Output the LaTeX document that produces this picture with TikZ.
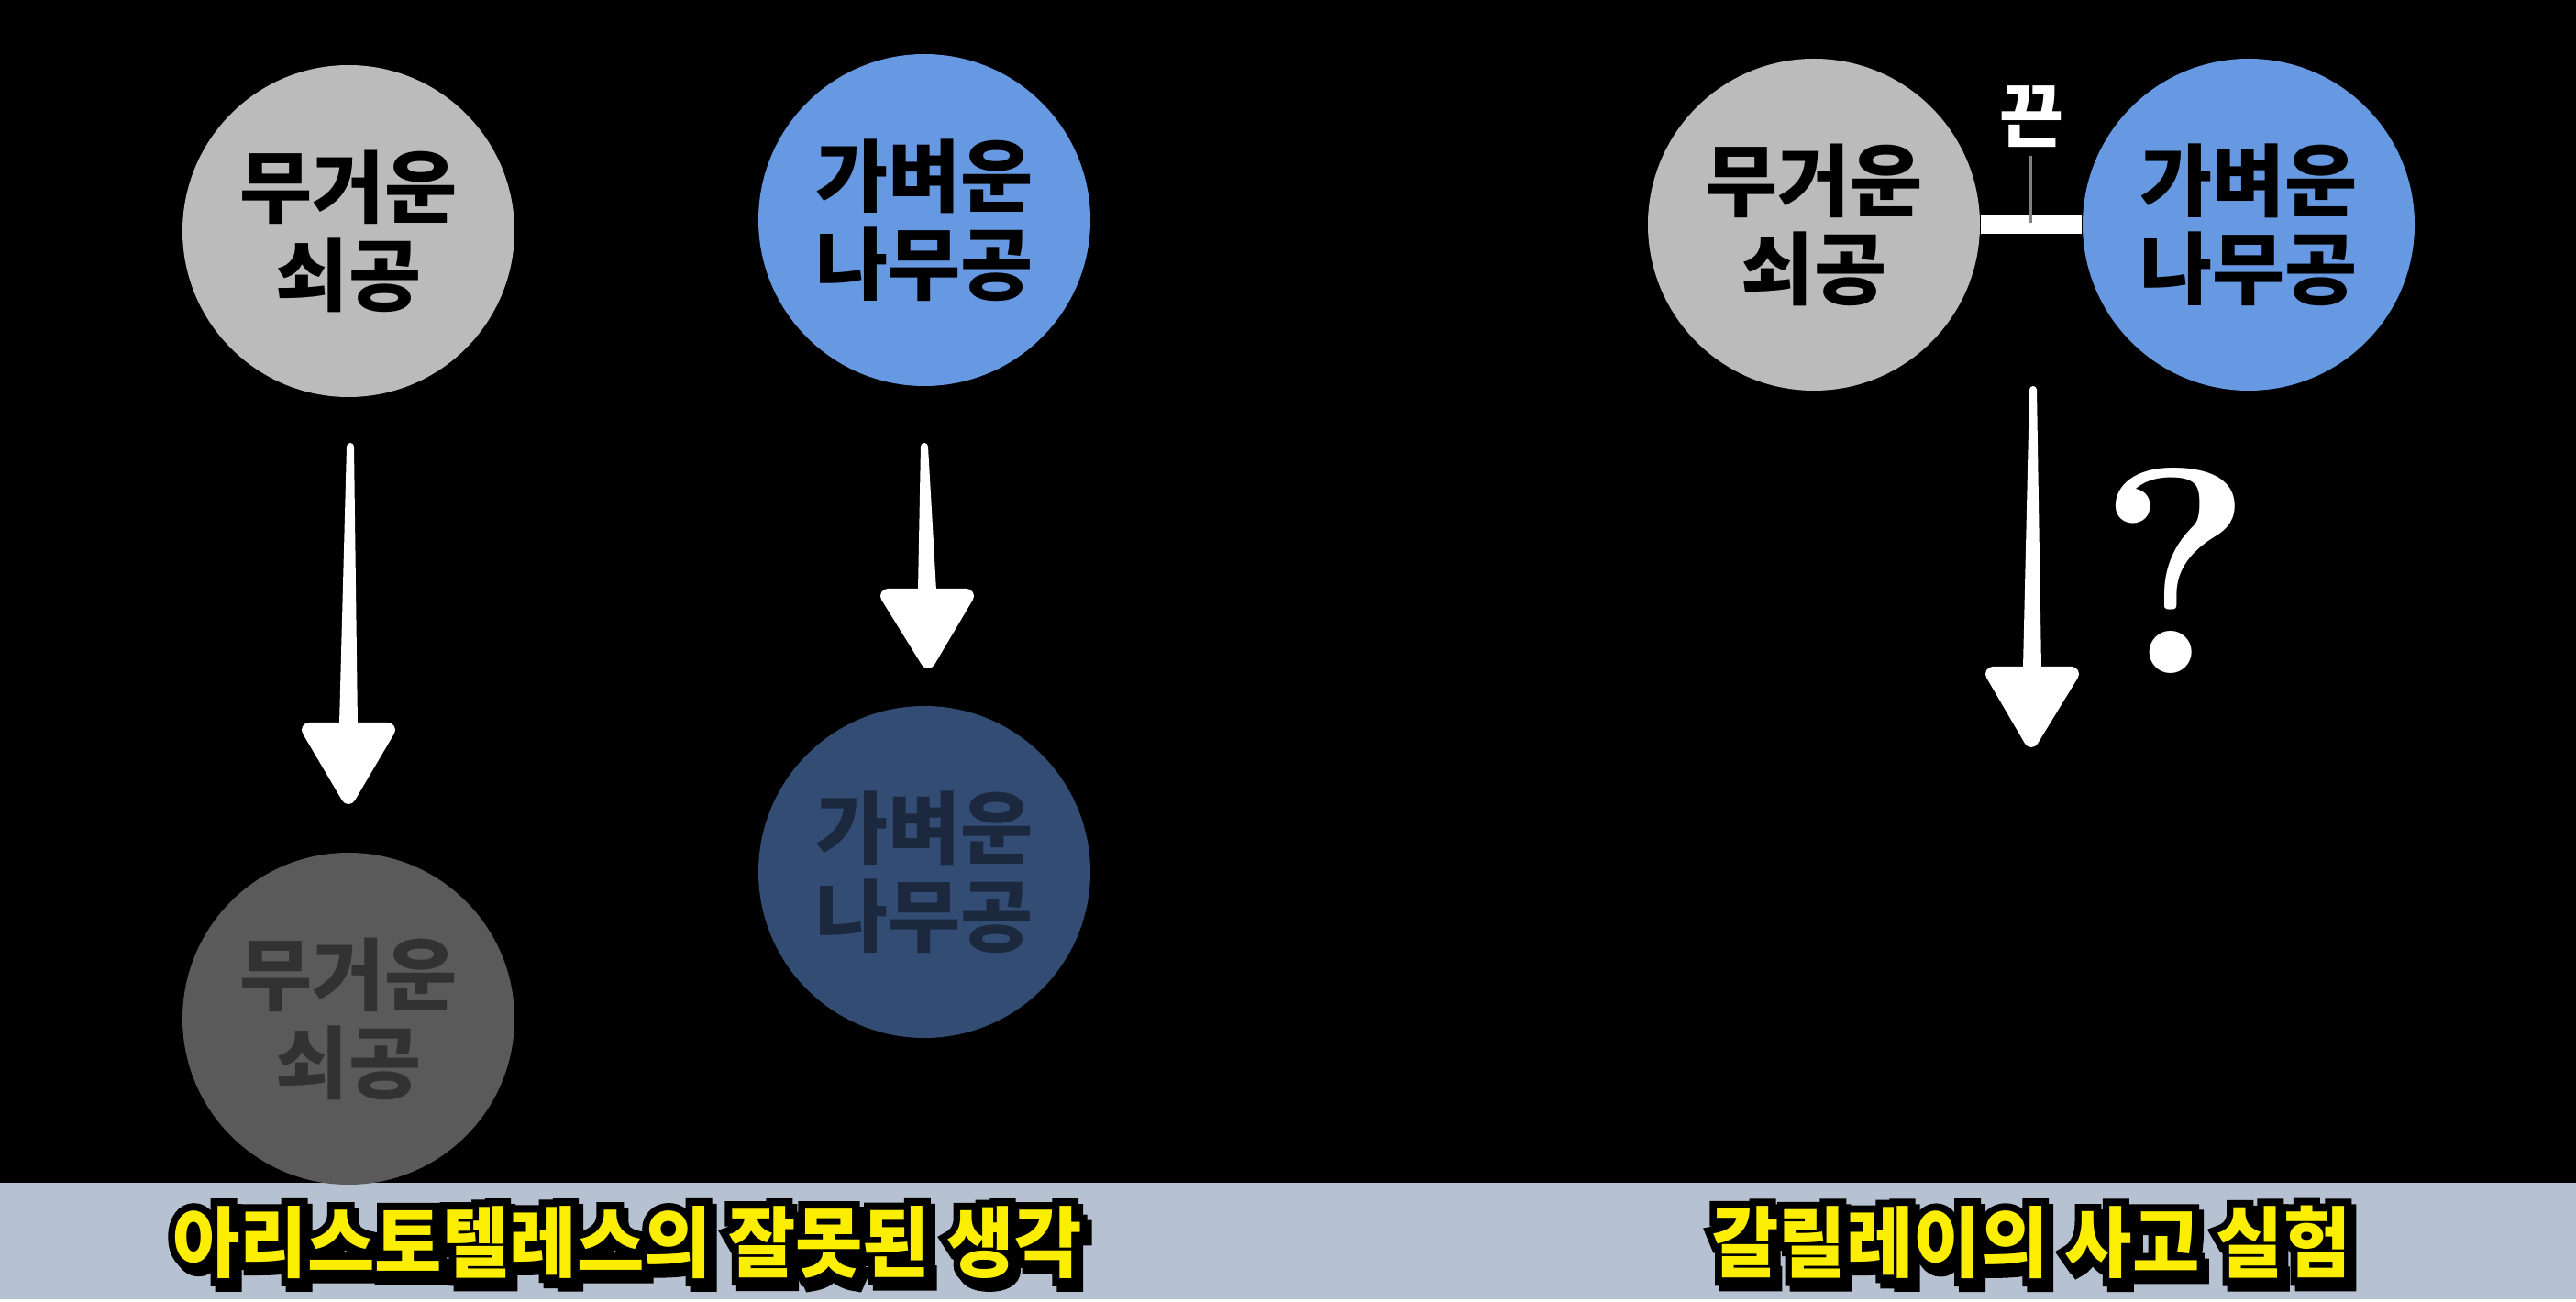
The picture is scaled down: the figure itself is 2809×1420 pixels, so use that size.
\documentclass[tikz,border=0pt]{standalone}
\usepackage{fontspec}
\newfontfamily\kr{Noto Sans CJK KR}
\newfontfamily\krout{Noto Sans CJK KR Bold}[FakeBold=20]
\usetikzlibrary{calc}
\definecolor{ironc}{HTML}{BBBBBB}
\definecolor{woodc}{HTML}{6699E1}
\definecolor{ironf}{HTML}{5A5A5A}
\definecolor{ironft}{HTML}{323232}
\definecolor{woodf}{HTML}{324C73}
\definecolor{woodft}{HTML}{1B283E}
\definecolor{barc}{HTML}{B6C2D1}
\definecolor{capy}{HTML}{FBEE00}
\definecolor{tickc}{HTML}{808080}
\tikzset{
  ball/.style={circle, minimum size=90.5pt, inner sep=0pt, align=center,
    font=\kr\bfseries\fontsize{21.5}{24}\selectfont},
  capstyle/.style={inner sep=0pt, font=\kr\bfseries\fontsize{21}{21}\selectfont},
  capout/.style={inner sep=0pt, text=black, font=\krout\bfseries\fontsize{21}{21}\selectfont},
}
\newcommand\fallarrow[4]{%
  \fill[white] ($(#1)+(-4,0)$) -- ($(#1)+(4,0)$) -- ($(#2)+(10,2)$) -- ($(#2)+(-10,2)$) -- cycle;
  \fill[white] (#1) circle (1pt);
  \filldraw[white, line join=round, line width=4pt]
    ($(#2)+(-#4+14,8)$) -- ($(#2)+(#4-14,8)$) -- ($(#3)+(0,-16)$) -- cycle;
}
\newcommand\capoutline[3]{%
  \node[capout] (#2s) at ($(#1)+(5,6)$) {\scalebox{0.95}[1]{#3}};
  \node[capout] (#2o) at (#1) {\scalebox{0.95}[1]{#3}};
  \node[capstyle, text=capy] (#2) at (#1) {\scalebox{0.95}[1]{#3}};
}
\begin{document}
\begin{tikzpicture}[x=0.25pt, y=-0.25pt]
\useasboundingbox (0,0) rectangle (2809,1420);
\fill[white] (0,0) rectangle (2809,1420);
\fill[black] (0,0) rectangle (2809,1290);
\fill[barc] (0,1290) rectangle (2809,1417);

% Aristotle
\node[ball, fill=ironc] (h1) at (380,252) {무거운\\쇠공};
\node[ball, fill=woodc] (w1) at (1008,240) {가벼운\\나무공};
\node[ball, fill=ironf, text=ironft] (h1f) at (380,1111) {무거운\\쇠공};
\node[ball, fill=woodf, text=woodft] (w1f) at (1008,951) {가벼운\\나무공};

\coordinate (a1t) at (382,487);
\coordinate (a1h) at (380,788);
\coordinate (a1e) at (380,885);
\fallarrow{a1t}{a1h}{a1e}{57}
\coordinate (a2t) at (1008,487);
\coordinate (a2h) at (1011,642);
\coordinate (a2e) at (1012,737);
\fallarrow{a2t}{a2h}{a2e}{57}

% Galileo
\node[ball, fill=ironc] (h2) at (1978,245) {무거운\\쇠공};
\node[ball, fill=woodc] (w2) at (2452,245) {가벼운\\나무공};
\draw[white, line width=5pt] (h2.east) -- (w2.west);
\coordinate (tickTop) at (2214,170);
\coordinate (tickBot) at (2214,243);
\draw[tickc, line width=0.75pt] (tickTop) -- (tickBot);
\node[inner sep=0pt, text=white, font=\kr\bfseries\fontsize{19}{19}\selectfont] (rope) at (2215,127) {끈};

\coordinate (a3t) at (2217,425);
\coordinate (a3h) at (2216,727);
\coordinate (a3e) at (2215,823);
\fallarrow{a3t}{a3h}{a3e}{57}
\node[inner sep=0pt, text=white, font=\bfseries\fontsize{80}{80}\selectfont] (q) at (2372,623) {?};

% captions
\coordinate (c1) at (684,1355);
\coordinate (c2) at (2215,1355);
\capoutline{c1}{cap1}{아리스토텔레스의 잘못된 생각}
\capoutline{c2}{cap2}{갈릴레이의 사고 실험}
\end{tikzpicture}
\end{document}
